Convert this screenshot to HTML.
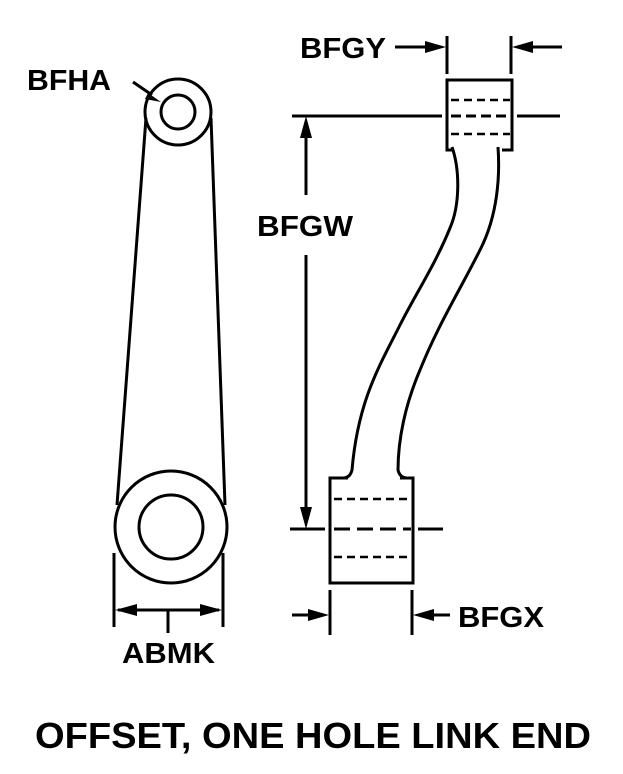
<!DOCTYPE html>
<html><head><style>
html,body{margin:0;padding:0;background:#fff;}
svg{display:block;}
text{font-family:"Liberation Sans",Arial,sans-serif;font-weight:bold;fill:#000;}
</style></head><body>
<svg width="623" height="774" viewBox="0 0 623 774" xmlns="http://www.w3.org/2000/svg">
<g fill="none" stroke="#000" stroke-width="3">
<circle cx="178" cy="112" r="33"/>
<circle cx="178" cy="112" r="17"/>
<circle cx="171" cy="527" r="56"/>
<circle cx="171" cy="527" r="32"/>
<line x1="146" y1="118" x2="117" y2="505"/>
<line x1="211" y1="118" x2="225" y2="505"/>
<line x1="133" y1="82" x2="152" y2="95"/>
<line x1="114" y1="553" x2="114" y2="627"/>
<line x1="223" y1="553" x2="223" y2="627"/>
<line x1="118" y1="610" x2="219" y2="610"/>
<line x1="168" y1="610" x2="168" y2="633"/>
<path d="M454,150 L447,150 L447,80 L512,80 L512,150 L502,150"/>
<line x1="292" y1="116" x2="442" y2="116"/>
<line x1="517" y1="116" x2="560" y2="116"/>
<line x1="447" y1="36" x2="447" y2="74"/>
<line x1="511" y1="36" x2="511" y2="74"/>
<line x1="395" y1="47" x2="440" y2="47"/>
<line x1="518" y1="47" x2="562" y2="47"/>
<path d="M348,478 L330,478 L330,583 L413,583 L413,478 L400,478"/>
<line x1="290" y1="529" x2="325" y2="529"/>
<line x1="418" y1="529" x2="443" y2="529"/>
<line x1="330" y1="590" x2="330" y2="635"/>
<line x1="412" y1="590" x2="412" y2="635"/>
<line x1="292" y1="615" x2="323" y2="615"/>
<line x1="419" y1="615" x2="450" y2="615"/>
<line x1="306" y1="125" x2="306" y2="195"/>
<line x1="306" y1="255" x2="306" y2="520"/>
<path d="M452,147 C460,170 460,205 450,228 C435,265 415,295 400,325 C380,365 358,400 352,470 Q350,478 343,478"/>
<path d="M498,147 C500,175 498,215 480,250 C460,290 438,325 420,370 C405,405 398,440 398,470 Q400,478 407,478"/>
</g>
<g stroke="#000" stroke-width="2.5" stroke-dasharray="8,5" fill="none">
<line x1="451" y1="100" x2="510" y2="100"/>
<line x1="451" y1="116" x2="510" y2="116" stroke-width="3" stroke-dasharray="10,5"/>
<line x1="451" y1="134" x2="510" y2="134"/>
<line x1="334" y1="499" x2="411" y2="499"/>
<line x1="334" y1="529" x2="411" y2="529" stroke-width="3" stroke-dasharray="16,7"/>
<line x1="334" y1="557" x2="411" y2="557"/>
</g>
<g fill="#000">
<polygon points="446,47 425,41 425,53"/>
<polygon points="512,47 533,41 533,53"/>
<polygon points="306,116 300,138 312,138"/>
<polygon points="306,529 300,507 312,507"/>
<polygon points="329,615 308,609 308,621"/>
<polygon points="413,615 434,609 434,621"/>
<polygon points="115,610 137,604 137,616"/>
<polygon points="222,610 200,604 200,616"/>
<polygon points="161,102 148,93 145,99"/>
</g>
<text x="27" y="90" font-size="29" textLength="84" lengthAdjust="spacingAndGlyphs">BFHA</text>
<text x="300" y="58" font-size="29" textLength="86" lengthAdjust="spacingAndGlyphs">BFGY</text>
<text x="257" y="236" font-size="29" textLength="96" lengthAdjust="spacingAndGlyphs">BFGW</text>
<text x="458" y="627" font-size="29" textLength="86" lengthAdjust="spacingAndGlyphs">BFGX</text>
<text x="122" y="663" font-size="29" textLength="93" lengthAdjust="spacingAndGlyphs">ABMK</text>
<text x="35" y="748" font-size="36" textLength="556" lengthAdjust="spacingAndGlyphs">OFFSET, ONE HOLE LINK END</text>
</svg>
</body></html>
